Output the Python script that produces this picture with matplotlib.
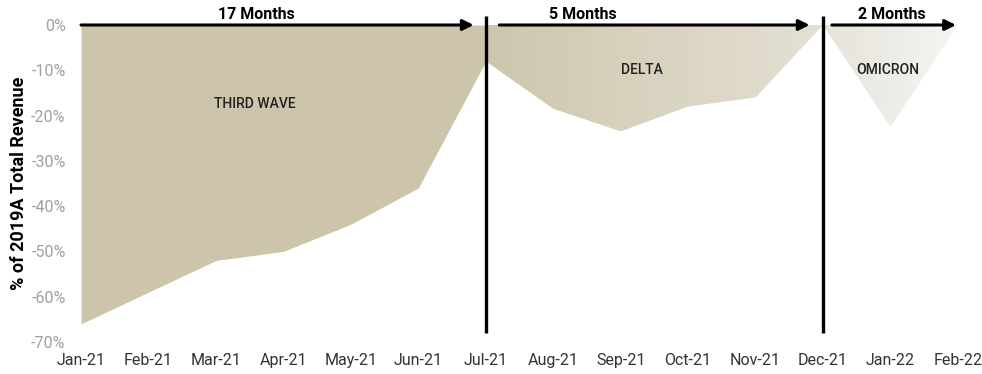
import matplotlib
matplotlib.use("Agg")
import matplotlib.pyplot as plt
import numpy as np
from matplotlib.colors import LinearSegmentedColormap
from matplotlib.ticker import FuncFormatter

plt.rcParams["font.family"] = ["Roboto", "DejaVu Sans"]

months = ["Jan-21", "Feb-21", "Mar-21", "Apr-21", "May-21", "Jun-21", "Jul-21",
          "Aug-21", "Sep-21", "Oct-21", "Nov-21", "Dec-21", "Jan-22", "Feb-22"]

# revenue vs 2019A, percent
third_wave = [-66, -59, -52, -50, -44, -36, -8]      # Jan-21 .. Jul-21
delta = [-8, -18.5, -23.5, -18, -16, 0]              # Jul-21 .. Dec-21
omicron = [0, -22.5, 0]                              # Dec-21 .. Feb-22

waves = ["THIRD WAVE", "DELTA", "OMICRON"]
durations = ["17 Months", "5 Months", "2 Months"]

NARROW = ["Liberation Sans Narrow", "Roboto", "DejaVu Sans"]

fig = plt.figure(figsize=(9.82, 3.74), dpi=100)
ax = fig.add_axes([81 / 982, 32 / 374, 877 / 982, 317 / 374])

x_tw = np.arange(0, 7)
x_de = np.arange(6, 12)
x_om = np.arange(11, 14)

ax.fill_between(x_tw, third_wave, 0, color="#CCC5AC", lw=0, zorder=1)


def gradient_fill(x, y, c0, c1):
    poly = ax.fill_between(x, y, 0, facecolor="none", lw=0, zorder=1)
    cmap = LinearSegmentedColormap.from_list("g", [c0, c1])
    grad = np.linspace(0, 1, 256).reshape(1, -1)
    im = ax.imshow(grad, cmap=cmap, aspect="auto", zorder=1,
                   extent=[x[0], x[-1], min(y), 0], interpolation="bicubic")
    im.set_clip_path(poly.get_paths()[0], transform=ax.transData)


gradient_fill(x_de, delta, "#CDC6AE", "#E4E0D3")
gradient_fill(x_om, omicron, "#E5E3DA", "#F6F5F2")

# phase separators
for xv in (6, 11):
    ax.plot([xv, xv], [2, -68], color="black", lw=2.4, clip_on=False, zorder=4,
            solid_capstyle="butt")

# duration arrows along the 0% line
spans = [(0, 5.82), (6.2, 10.8), (11.13, 12.97)]
label_x = [2.6, 7.44, 12.02]
for (x0, x1), txt, lx in zip(spans, durations, label_x):
    ax.annotate("", xy=(x1, 0), xytext=(x0, 0),
                arrowprops=dict(arrowstyle="-|>", color="black", lw=2.2,
                                mutation_scale=16, shrinkA=0, shrinkB=0),
                annotation_clip=False, zorder=5)
    ax.text(lx, 0.6, txt, ha="center", va="bottom", fontsize=11.5,
            fontweight="bold", color="black", clip_on=False)

# wave names
for txt, (lx, ly) in zip(waves, [(2.58, -17.5), (8.32, -10), (11.96, -10)]):
    ax.text(lx, ly, txt, ha="center", va="center", fontsize=10,
            family=NARROW, fontweight="medium", color="#222222", zorder=5)

ax.set_xlim(0, 13)
ax.set_ylim(-70, 0)
ax.set_xticks(range(len(months)))
ax.set_xticklabels(months)
ax.set_yticks(np.arange(-70, 1, 10))
ax.yaxis.set_major_formatter(FuncFormatter(lambda v, _: f"{v:.0f}%"))
ax.tick_params(axis="x", length=0, pad=8, labelsize=11.5, labelcolor="#333333")
ax.tick_params(axis="y", length=0, pad=11, labelsize=11.5, labelcolor="#A0A0A0")
for s in ax.spines.values():
    s.set_visible(False)

ax.set_ylabel("% of 2019A Total Revenue", fontsize=13, fontweight="bold", color="black")
ax.yaxis.set_label_coords(-0.061, 0.5)

fig.savefig("out.png", dpi=100, facecolor="white")
